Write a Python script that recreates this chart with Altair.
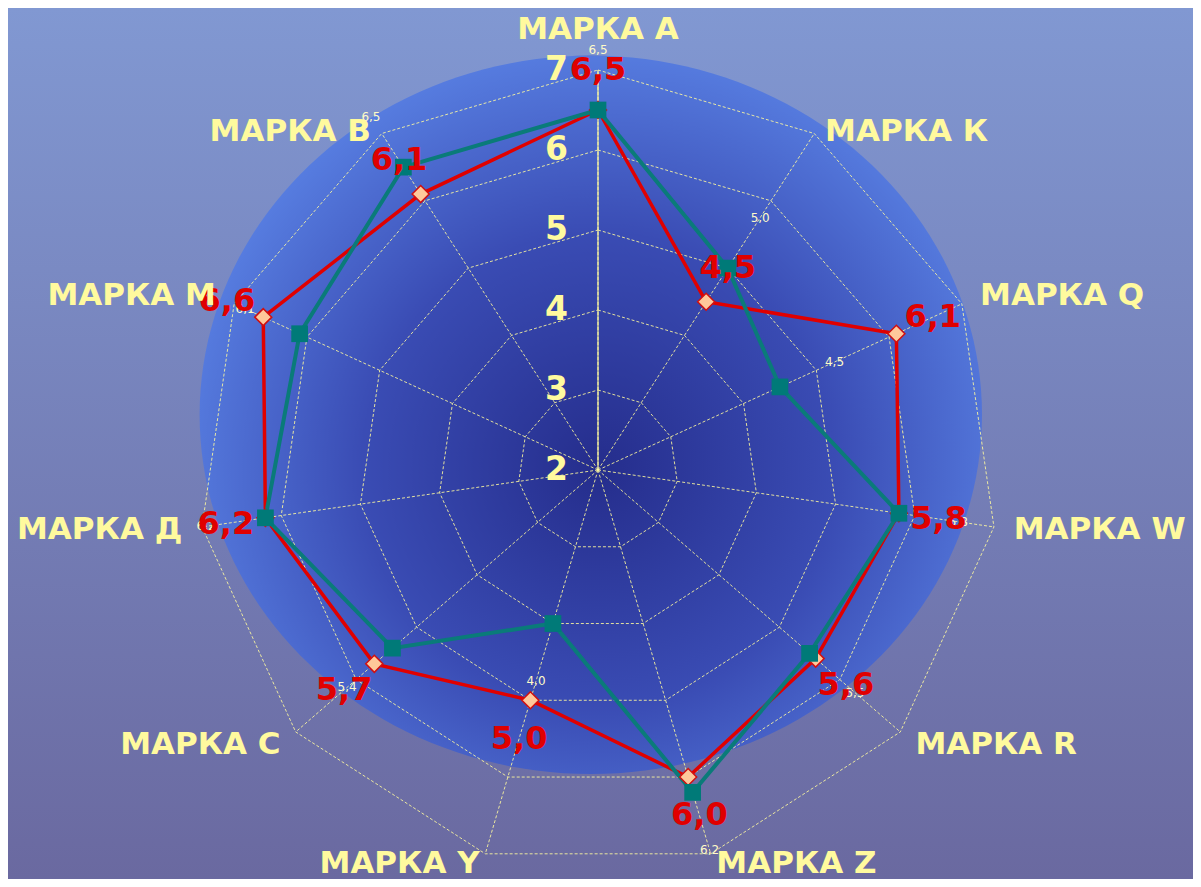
import math
import numpy as np
import pandas as pd
import altair as alt

# ---------------- data ----------------
categories = ["МАРКА А", "МАРКА К", "МАРКА Q", "МАРКА W", "МАРКА R", "МАРКА Z",
              "МАРКА Y", "МАРКА С", "МАРКА Д", "МАРКА М", "МАРКА В"]
red_values = [6.5, 4.5, 6.1, 5.8, 5.6, 6.0, 5.0, 5.7, 6.2, 6.6, 6.1]
teal_values = [6.5, 5.0, 4.5, 5.8, 5.5, 6.2, 4.0, 5.4, 6.2, 6.1, 6.5]
radial_ticks = [2, 3, 4, 5, 6, 7]

R_MIN = 2
R_MAX = 7
N = len(categories)


def polar(i, v):
    th = 2 * math.pi * i / N
    r = v - R_MIN
    return r * math.sin(th), r * math.cos(th)


def fmt(v):
    return f"{v:.1f}".replace(".", ",")


# ---------------- tables ----------------
rings = []
for lv in radial_ticks[1:]:
    for k in range(N + 1):
        x, y = polar(k % N, lv)
        rings.append({"level": lv, "k": k, "x": x, "y": y})
rings = pd.DataFrame(rings)

spokes = []
for i, c in enumerate(categories):
    xe, ye = polar(i, R_MAX)
    spokes.append({"i": i, "x0": 0.0, "y0": 0.0, "xe": xe, "ye": ye})
spokes = pd.DataFrame(spokes)


def series_df(vals):
    rows = []
    for k in range(N + 1):
        i = k % N
        x, y = polar(i, vals[i])
        rows.append({"k": k, "cat": categories[i], "v": vals[i], "x": x, "y": y})
    return pd.DataFrame(rows)


red_df = series_df(red_values)
teal_df = series_df(teal_values)
red_pts = red_df[red_df.k < N]
teal_pts = teal_df[teal_df.k < N]

red_lab = pd.DataFrame([
    dict(zip(["x", "y"], polar(i, v + 0.5)), t=fmt(v)) for i, v in enumerate(red_values)
])
teal_lab = pd.DataFrame([
    dict(zip(["x", "y"], polar(i, v + 0.75)), t=fmt(v)) for i, v in enumerate(teal_values)
])

cat_rows = []
for i, c in enumerate(categories):
    th = 2 * math.pi * i / N
    s, co = math.sin(th), math.cos(th)
    al = "left" if s > 0.2 else ("right" if s < -0.2 else "center")
    if co > 0.9:
        bl = "bottom"
    elif co > 0.5:
        bl = "top"
    elif co < -0.8:
        bl = "alphabetic"
    else:
        bl = "middle"
    x, y = polar(i, R_MAX + (0.3 if al == "center" else 0.25))
    cat_rows.append({"x": x, "y": y, "t": c, "al": al, "bl": bl})
cat_df = pd.DataFrame(cat_rows)

tick_df = pd.DataFrame({"t": [str(v) for v in radial_ticks],
                        "x": [-0.52] * len(radial_ticks),
                        "y": [v - R_MIN for v in radial_ticks]})

# decorative backdrop ellipse (in plot units)
ang = np.linspace(0, 2 * np.pi, 181)
ell = pd.DataFrame({"k": np.arange(181),
                    "x": -0.09 + 4.89 * np.sin(ang),
                    "y": 0.69 + 4.49 * np.cos(ang)})

# ---------------- scales ----------------
PX = 80.0
W, H = 1185, 871
CX, CY = 590, 462
xs = alt.Scale(domain=[-CX / PX, (W - CX) / PX], zero=False, nice=False)
ys = alt.Scale(domain=[-(H - CY) / PX, CY / PX], zero=False, nice=False)
X = alt.X("x:Q", scale=xs, axis=None)
Y = alt.Y("y:Q", scale=ys, axis=None)

FONT = "DejaVu Sans"
YEL = "#fffa9e"

bg = alt.Chart(pd.DataFrame({"a": [0]})).mark_rect(
    fill=alt.LinearGradient(gradient="linear",
                            stops=[alt.GradientStop(offset=0, color="#8198d2"),
                                   alt.GradientStop(offset=1, color="#6a69a0")],
                            x1=0, x2=0, y1=0, y2=1)
).encode(x=alt.value(0), x2=alt.value("width"), y=alt.value(0), y2=alt.value("height"))

disk = alt.Chart(ell).mark_line(
    fill=alt.RadialGradient(gradient="radial",
                            stops=[alt.GradientStop(offset=0, color="#252d8c"),
                                   alt.GradientStop(offset=0.55, color="#3a4cb4"),
                                   alt.GradientStop(offset=1, color="#587fe2")],
                            x1=0.51, y1=0.57, r1=0, x2=0.51, y2=0.57, r2=0.55),
    strokeWidth=0
).encode(x=X, y=Y, order="k:Q")

ring_l = alt.Chart(rings).mark_line(color=YEL, strokeWidth=1, strokeDash=[3, 2], opacity=0.85).encode(
    x=X, y=Y, detail="level:N", order="k:Q")

spoke_l = alt.Chart(spokes).mark_rule(color=YEL, strokeWidth=1, strokeDash=[3, 2], opacity=0.85).encode(
    x=alt.X("x0:Q", scale=xs, axis=None), y=alt.Y("y0:Q", scale=ys, axis=None), x2="xe:Q", y2="ye:Q")

axis_l = alt.Chart(spokes).transform_filter("datum.i == 0").mark_rule(color=YEL, strokeWidth=1.2).encode(
    x=alt.X("x0:Q", scale=xs, axis=None), y=alt.Y("y0:Q", scale=ys, axis=None), x2="xe:Q", y2="ye:Q")

red_line = alt.Chart(red_df).mark_line(color="#e00000", strokeWidth=3.5).encode(x=X, y=Y, order="k:Q")
teal_line = alt.Chart(teal_df).mark_line(color="#0a7b79", strokeWidth=4).encode(x=X, y=Y, order="k:Q")
red_pt = alt.Chart(red_pts).mark_point(shape="diamond", filled=True, fill="#ffc89a", stroke="#d01010",
                                       strokeWidth=1.5, size=290, opacity=1).encode(x=X, y=Y)
teal_pt = alt.Chart(teal_pts).mark_square(color="#007a78", size=280, opacity=1).encode(x=X, y=Y)

teal_txt = alt.Chart(teal_lab).mark_text(font=FONT, fontSize=12, color="#fffbc8").encode(
    x=X, y=Y, text="t:N")
red_txt = alt.Chart(red_lab).mark_text(font=FONT, fontSize=32, fontWeight="bold", color="#e00000").encode(
    x=X, y=Y, text="t:N")

tick_txt = alt.Chart(tick_df).mark_text(font=FONT, fontSize=33, fontWeight="bold", color=YEL).encode(
    x=X, y=Y, text="t:N")

cat_layers = []
for (al, bl) in sorted(set(zip(cat_df.al, cat_df.bl))):
    cat_layers.append(
        alt.Chart(cat_df).transform_filter(f"datum.al == '{al}' && datum.bl == '{bl}'").mark_text(
            font=FONT, fontSize=31, fontWeight="bold", color=YEL, align=al, baseline=bl
        ).encode(x=X, y=Y, text="t:N")
    )

chart = alt.layer(
    bg, disk, ring_l, spoke_l, axis_l, red_line, teal_line, red_pt, teal_pt,
    teal_txt, tick_txt, red_txt, *cat_layers
).properties(
    width=W, height=H, autosize=alt.AutoSizeParams(type="none"), padding=0
).configure_view(stroke=None)

chart.save("out.html", embed_options={"renderer": "svg", "actions": False})
